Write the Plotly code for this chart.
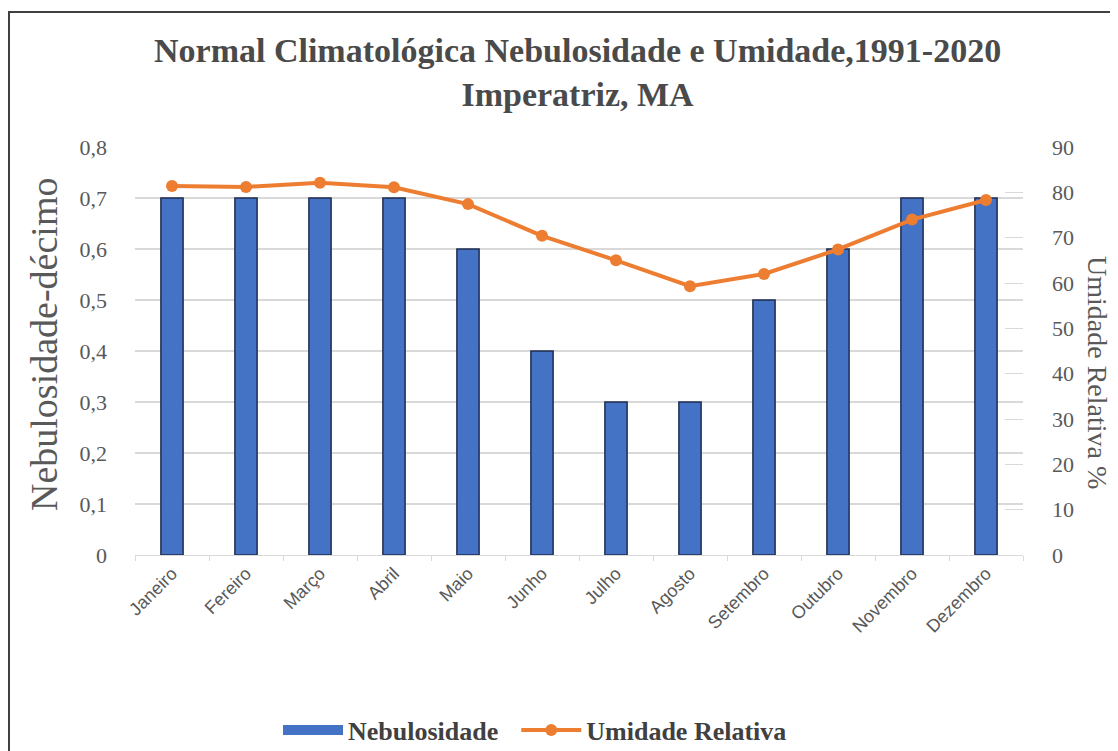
import plotly.graph_objects as go

meses = ["Janeiro", "Fereiro", "Março", "Abril", "Maio", "Junho", "Julho",
         "Agosto", "Setembro", "Outubro", "Novembro", "Dezembro"]
nebulosidade = [0.7, 0.7, 0.7, 0.7, 0.6, 0.4, 0.3, 0.3, 0.5, 0.6, 0.7, 0.7]
umidade = [81.4, 81.2, 82.1, 81.1, 77.4, 70.4, 65.0, 59.3, 62.0, 67.4, 74.0, 78.3]
left_ticks = [0, 0.1, 0.2, 0.3, 0.4, 0.5, 0.6, 0.7, 0.8]
right_ticks = [0, 10, 20, 30, 40, 50, 60, 70, 80, 90]

OFF = 8  # page body margin
W, H = 1118 - OFF, 751 - OFF
ML, MT = 135 - OFF, 147 - OFF
MR = W - (1023 - OFF)
MB = H - (555 - OFF)
PW, PH = W - ML - MR, H - MT - MB

def px(x):
    return (x - OFF - ML) / PW

def py(y):
    return (H - MB - (y - OFF)) / PH

serif = "Liberation Serif"
gray = "#595959"
blue = "#4472C4"
orange = "#ED7D31"

fig = go.Figure()
fig.add_trace(go.Bar(
    x=meses, y=nebulosidade, name="Nebulosidade",
    marker=dict(color=blue, line=dict(color="#1F2D4F", width=1.5)),
    width=0.3, yaxis="y", showlegend=False,
))
# legend entry for the bars (wide rectangle look)
fig.add_trace(go.Scatter(
    x=[None], y=[None], name="Nebulosidade  ", mode="lines",
    line=dict(color=blue, width=15), yaxis="y", showlegend=True,
))
fig.add_trace(go.Scatter(
    x=meses, y=umidade, name="Umidade Relativa", mode="lines+markers",
    line=dict(color=orange, width=4),
    marker=dict(color=orange, size=12), yaxis="y2",
))

fig.update_layout(
    width=W, height=H,
    margin=dict(l=ML, r=MR, t=MT, b=MB, autoexpand=False),
    paper_bgcolor="white", plot_bgcolor="white",
    separators=",.",
    showlegend=True,
    legend=dict(orientation="h", x=px(535), xanchor="center", y=py(730), yanchor="middle",
                font=dict(family=serif, size=26, color="#404040", weight="bold"),
                traceorder="normal", itemwidth=60),
    xaxis=dict(range=[-0.5, 11.5], tickangle=-45,
               tickfont=dict(family="Liberation Sans", size=18, color=gray),
               showgrid=False, showline=True, linecolor="#D9D9D9", linewidth=1,
               ticks="outside", ticklen=5, tickcolor="#D9D9D9", tickson="boundaries",
               automargin=False),
    yaxis=dict(range=[0, 0.8], tickvals=left_ticks, tickformat=".1~f",
               tickfont=dict(family=serif, size=22, color=gray),
               showgrid=True, gridcolor="#D9D9D9", gridwidth=1.5,
               zeroline=False, showline=False, ticklabelstandoff=27, automargin=False),
    yaxis2=dict(range=[0, 90], tickvals=right_ticks, overlaying="y", side="right",
                tickfont=dict(family=serif, size=22, color=gray),
                showgrid=False, zeroline=False, showline=False,
                ticks="inside", ticklen=18, tickcolor="#D9D9D9",
                ticklabelstandoff=28, automargin=False),
    bargap=0.7,
)

fig.add_annotation(text="Normal Climatológica Nebulosidade e Umidade,1991-2020<br>Imperatriz, MA",
                   x=px(577), y=py(72), xref="paper", yref="paper",
                   showarrow=False, xanchor="center", yanchor="middle",
                   font=dict(family=serif, size=34, color="#4a4a4a", weight="bold"))
fig.add_annotation(text="Nebulosidade-décimo", x=px(44), y=py(345), xref="paper", yref="paper",
                   showarrow=False, textangle=-90, xanchor="center", yanchor="middle",
                   font=dict(family=serif, size=38, color=gray))
fig.add_annotation(text="Umidade Relativa %", x=px(1098), y=py(372), xref="paper", yref="paper",
                   showarrow=False, textangle=90, xanchor="center", yanchor="middle",
                   font=dict(family=serif, size=28, color=gray))

fig.add_shape(type="rect", xref="paper", yref="paper",
              x0=px(9), x1=px(1140), y0=py(790), y1=py(12),
              line=dict(color="#404040", width=2), fillcolor="rgba(0,0,0,0)", layer="below")

fig.write_html("out.html")
